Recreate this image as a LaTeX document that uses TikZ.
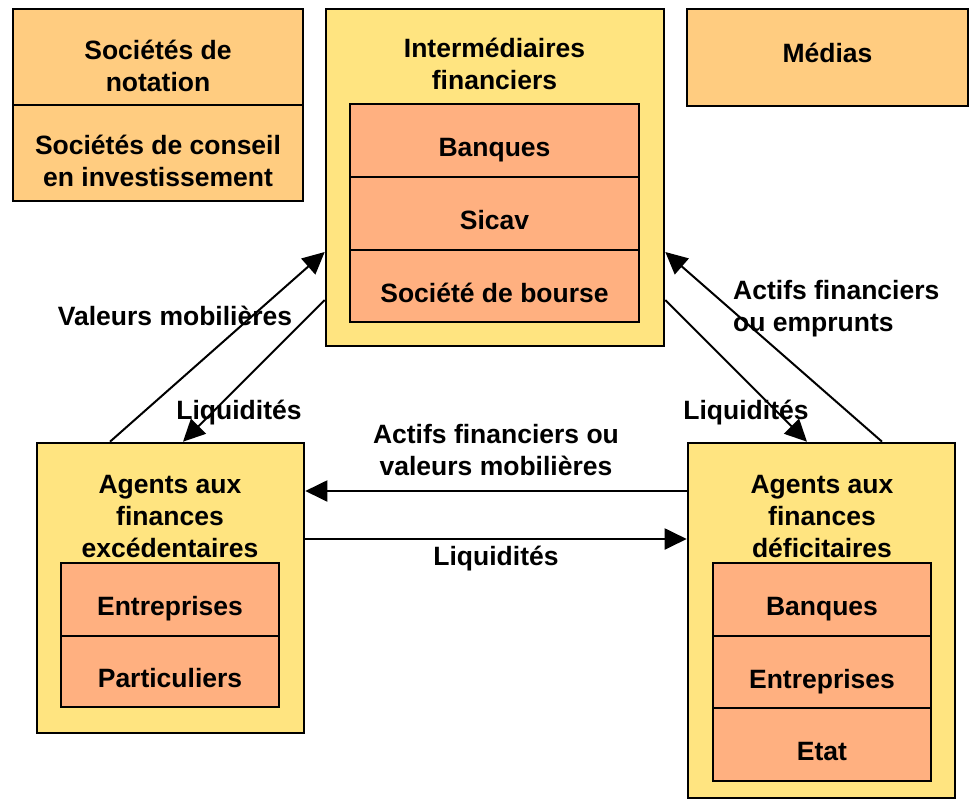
\documentclass[tikz,border=0pt]{standalone}
\usepackage{fontspec}
\setmainfont{Liberation Sans}
\usetikzlibrary{arrows.meta}

\definecolor{jaune}{RGB}{255,228,128}
\definecolor{orangeclair}{RGB}{255,204,128}
\definecolor{saumon}{RGB}{255,176,128}

\tikzset{
  boite/.style={draw, line width=2.6pt, inner sep=0pt},
  case/.style={boite, fill=saumon, text height=32pt, text depth=0pt},
  texte/.style={inner sep=0pt, align=center},
  fleche/.style={line width=2pt, -{Triangle[length=22pt,width=21pt]}}
}

\begin{document}
\begin{tikzpicture}[x=1pt, y=-1pt, font=\bfseries\fontsize{26.5}{32}\selectfont]
\useasboundingbox (0,0) rectangle (970,801);
%\draw [help lines, step=50] (0,0) grid (970,801);
% boites du haut
\node[boite, fill=orangeclair, minimum width=290, minimum height=96] (notation) at (158,57) {};
\node[boite, fill=orangeclair, minimum width=290, minimum height=96] (conseil) at (158,153) {};
\node[boite, fill=orangeclair, minimum width=281, minimum height=97] (medias) at (827.5,57.5) {};
\node[texte] (t-notation) at (158,66) {Sociétés de\\notation};
\node[texte] (t-conseil) at (158,161) {Sociétés de conseil\\en investissement};
\node[texte] (t-medias) at (827.5,53) {Médias};
% intermediaires
\node[boite, fill=jaune, minimum width=338, minimum height=337] (interm) at (495,177.5) {};
\node[texte] (t-interm) at (494.5,64) {Intermédiaires\\financiers};
\node[case, minimum width=289, minimum height=73] (banques) at (494.5,140.5) {Banques};
\node[case, minimum width=289, minimum height=73] (sicav) at (494.5,213.5) {Sicav};
\node[case, minimum width=289, minimum height=72] (bourse) at (494.5,286) {Société de bourse};
% agents excedentaires
\node[boite, fill=jaune, minimum width=267, minimum height=290] (excedent) at (170.5,588) {};
\node[texte] (t-excedent) at (170,517) {Agents aux\\finances\\excédentaires};
\node[case, minimum width=218, minimum height=73] (entreprises1) at (170,599.5) {Entreprises};
\node[case, minimum width=218, minimum height=71] (particuliers) at (170,671.5) {Particuliers};
% agents deficitaires
\node[boite, fill=jaune, minimum width=267, minimum height=355] (deficit) at (821.5,620.5) {};
\node[texte] (t-deficit) at (822,517) {Agents aux\\finances\\déficitaires};
\node[case, minimum width=218, minimum height=73] (banques2) at (822,599.5) {Banques};
\node[case, minimum width=218, minimum height=72] (entreprises2) at (822,672) {Entreprises};
\node[case, minimum width=218, minimum height=73] (etat) at (822,744.5) {Etat};
% fleches
\draw[fleche] (excedent.north -| 110,0) -- (interm.west |- 0,252);
\draw[fleche] (interm.west |- 0,300) -- (excedent.north -| 183,0);
\draw[fleche] (deficit.north -| 882,0) -- (interm.east |- 0,252);
\draw[fleche] (interm.east |- 0,300) -- (deficit.north -| 807,0);
\draw[fleche] (deficit.west |- 0,491) -- (excedent.east |- 0,491);
\draw[fleche] (excedent.east |- 0,539) -- (deficit.west |- 0,539);
% etiquettes
\node[texte] (l-valeurs) at (175,316) {Valeurs mobilières};
\node[texte] (l-liquidites1) at (239,413) {Liquidités};
\node[texte, align=left, anchor=west] (l-emprunts) at (733,309) {Actifs financiers\\ou emprunts};
\node[texte] (l-liquidites2) at (746,413) {Liquidités};
\node[texte] (l-actifs) at (496,450) {Actifs financiers ou\\valeurs mobilières};
\node[texte] (l-liquidites3) at (496,559) {Liquidités};
\end{tikzpicture}
\end{document}
